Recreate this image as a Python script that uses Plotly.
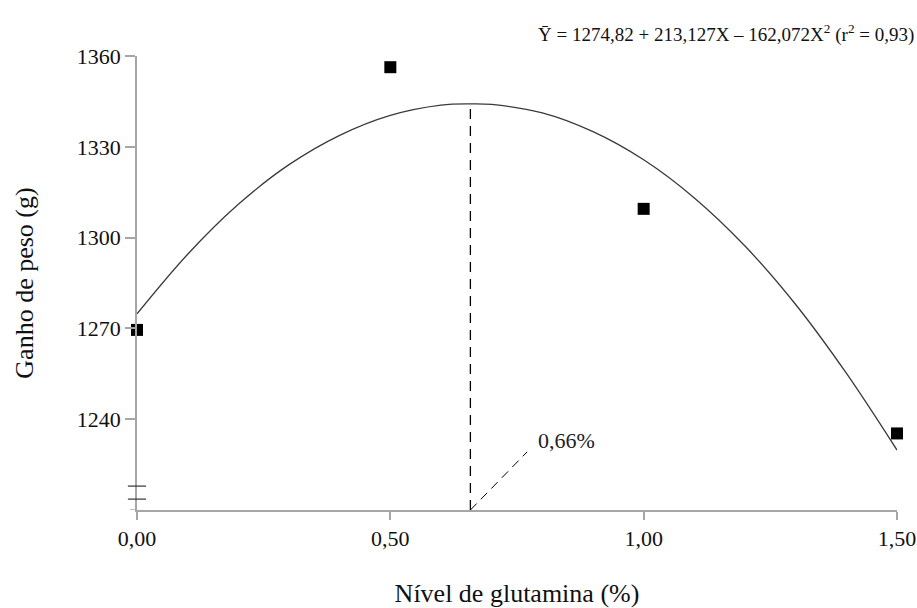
import plotly.graph_objects as go

# Observed means
x_obs = [0.0, 0.5, 1.0, 1.5]
y_obs = [1269.5, 1356.3, 1309.5, 1235.3]

# Fitted quadratic curve
x_fit = [0.0, 0.1, 0.2, 0.3, 0.4, 0.5, 0.6, 0.658, 0.7, 0.8, 0.9, 1.0, 1.1, 1.2, 1.3, 1.4, 1.5]
y_fit = [1274.8, 1294.5, 1311.0, 1324.1, 1333.8, 1340.4, 1343.8, 1344.2, 1344.0, 1341.2,
         1335.0, 1325.7, 1313.1, 1297.2, 1277.9, 1255.2, 1229.8]

# Optimum level marker
x_opt = [0.658, 0.658]
y_opt = [1210, 1344.2]
x_lead = [0.658, 0.77]
y_lead = [1210, 1229.2]
opt_label = "0,66%"

x_ticks = [0.0, 0.5, 1.0, 1.5]
x_ticktext = ["0,00", "0,50", "1,00", "1,50"]
y_ticks = [1240, 1270, 1300, 1330, 1360]

FONT = "Liberation Serif, Times New Roman, serif"
AX = "#a6a6a6"

fig = go.Figure()
fig.add_trace(go.Scatter(x=x_fit, y=y_fit, mode="lines", line=dict(color="#3a3a3a", width=1.3, shape="spline"),
                         hoverinfo="skip", showlegend=False))
fig.add_trace(go.Scatter(x=x_opt, y=y_opt, mode="lines", line=dict(color="black", width=1.3, dash="10px,7px"),
                         showlegend=False))
fig.add_trace(go.Scatter(x=x_lead, y=y_lead, mode="lines", line=dict(color="black", width=1, dash="9px,6px"),
                         showlegend=False))
fig.add_trace(go.Scatter(x=x_obs, y=y_obs, mode="markers",
                         marker=dict(symbol="square", size=12, color="black"), cliponaxis=False, showlegend=False))

fig.add_annotation(x=0.77, y=1233, text=opt_label, showarrow=False, xanchor="left", yanchor="middle",
                   xshift=9, font=dict(family=FONT, size=22, color="#222"))

fig.add_annotation(x=1, y=1, xref="paper", yref="paper", xanchor="right", yanchor="bottom",
                   xshift=19, yshift=8, showarrow=False,
                   text="Ȳ = 1274,82 + 213,127X – 162,072X<sup>2</sup> (r<sup>2</sup> = 0,93)",
                   font=dict(family=FONT, size=19, color="#111"))

# axis break marks
for yb in [1217.9, 1213.6]:
    fig.add_shape(type="line", xref="paper", yref="y", x0=-0.012, x1=0.012, y0=yb, y1=yb,
                  line=dict(color="#333", width=1.2))
# small x axis extension to the left
fig.add_shape(type="line", xref="paper", yref="y", x0=-0.009, x1=0, y0=1210, y1=1210,
              line=dict(color=AX, width=1.5))

fig.update_layout(
    width=917, height=608,
    margin=dict(l=137, r=20, t=56, b=98),
    plot_bgcolor="white", paper_bgcolor="white",
    font=dict(family=FONT, color="#111"),
    xaxis=dict(range=[0, 1.5], tickvals=x_ticks, ticktext=x_ticktext, showline=True, linecolor=AX,
               linewidth=1.5, ticks="outside", ticklen=8, tickcolor=AX, tickwidth=1.5, showgrid=False,
               zeroline=False, automargin=False, tickfont=dict(family=FONT, size=22, color="#111"),
               title=dict(text="Nível de glutamina (%)", font=dict(family=FONT, size=26, color="#111"),
                          standoff=34)),
    yaxis=dict(range=[1210, 1360], tickvals=y_ticks, showline=True, linecolor=AX, linewidth=1.5,
               ticks="outside", ticklen=10, tickcolor=AX, tickwidth=1.5, showgrid=False, zeroline=False,
               automargin=False, tickfont=dict(family=FONT, size=22, color="#111"),
               title=dict(text="Ganho de peso (g)", font=dict(family=FONT, size=26, color="#111"),
                          standoff=36)),
)

fig.write_html("out.html")
